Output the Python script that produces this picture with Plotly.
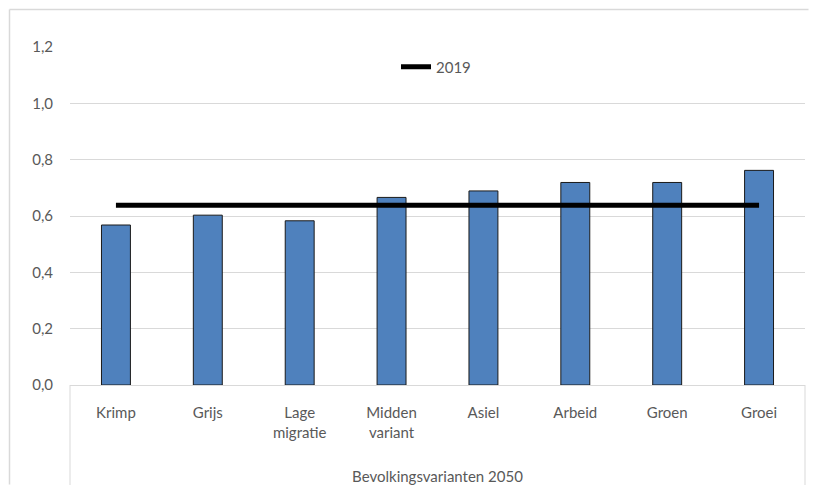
import plotly.graph_objects as go

categories = ["Krimp", "Grijs", "Lage<br>migratie", "Midden<br>variant", "Asiel", "Arbeid", "Groen", "Groei"]
values_2050 = [0.568, 0.603, 0.583, 0.666, 0.689, 0.719, 0.719, 0.762]
value_2019 = 0.638
line_2019 = [value_2019] * len(categories)
y_ticks = [0.0, 0.2, 0.4, 0.6, 0.8, 1.0, 1.2]
x_title = "Bevolkingsvarianten 2050"

FONT = "Lato, Carlito, Calibri, sans-serif"
GREY = "#595959"
GRID = "#d9d9d9"
FS = 15

fig = go.Figure()
fig.add_trace(go.Bar(
    x=categories, y=values_2050, name="2050",
    marker=dict(color="#4f81bd", line=dict(color="#1a1a1a", width=1)),
    showlegend=False,
))
fig.add_trace(go.Scatter(
    x=categories, y=line_2019, name="2019", mode="lines",
    line=dict(color="black", width=5),
))

# the page body has an 8px margin on every side; keep the figure inside the
# window without overflow
OFF = 8
WIN_W, WIN_H = 817, 493
W, H = WIN_W - 2 * OFF, WIN_H - 2 * OFF
# plot area in window coords: x 70..805, y 47..385
L, T = 70 - OFF, 47 - OFF
R = (WIN_W - OFF) - 805
B = (WIN_H - OFF) - 385
pw, ph = W - L - R, H - T - B

def px(xw):
    return (xw - OFF - L) / pw

def py(yw):
    return (H - B - (yw - OFF)) / ph

shapes = [
    # category axis box sides
    dict(type="line", xref="paper", yref="paper", x0=0, x1=0, y0=0, y1=py(489),
         line=dict(color=GRID, width=1)),
    dict(type="line", xref="paper", yref="paper", x0=1, x1=1, y0=0, y1=py(489),
         line=dict(color=GRID, width=1)),
    # outer chart border
    dict(type="line", xref="paper", yref="paper", x0=px(9.5), x1=px(9.5), y0=py(9.5), y1=py(484.5),
         line=dict(color=GRID, width=1.5)),
    dict(type="line", xref="paper", yref="paper", x0=px(9.5), x1=px(808.5), y0=py(9.5), y1=py(9.5),
         line=dict(color=GRID, width=1.5)),
]

fig.update_layout(
    width=W, height=H,
    margin=dict(l=L, r=R, t=T, b=B, autoexpand=False),
    paper_bgcolor="white", plot_bgcolor="white",
    separators=",.",
    font=dict(family=FONT, size=FS, color=GREY),
    bargap=0.685,
    showlegend=True,
    legend=dict(orientation="h", x=px(396), y=py(67), xanchor="left", yanchor="middle",
                font=dict(family=FONT, size=FS, color=GREY), bgcolor="rgba(0,0,0,0)",
                itemwidth=30),
    shapes=shapes,
    xaxis=dict(
        automargin=False,
        showgrid=False, showline=True, linecolor=GRID, linewidth=1,
        ticks="", ticklabelstandoff=14,
        tickfont=dict(family=FONT, size=FS, color=GREY),
        title=dict(text=x_title, standoff=32, font=dict(family=FONT, size=FS, color=GREY)),
        fixedrange=True,
    ),
    yaxis=dict(
        automargin=False,
        range=[0, 1.2], tickvals=y_ticks, tickformat=".1f",
        showgrid=True, gridcolor=GRID, gridwidth=1,
        zeroline=False, showline=False, ticks="",
        ticklabelstandoff=16,
        tickfont=dict(family=FONT, size=FS, color=GREY),
        fixedrange=True,
    ),
)

fig.write_html("out.html")
